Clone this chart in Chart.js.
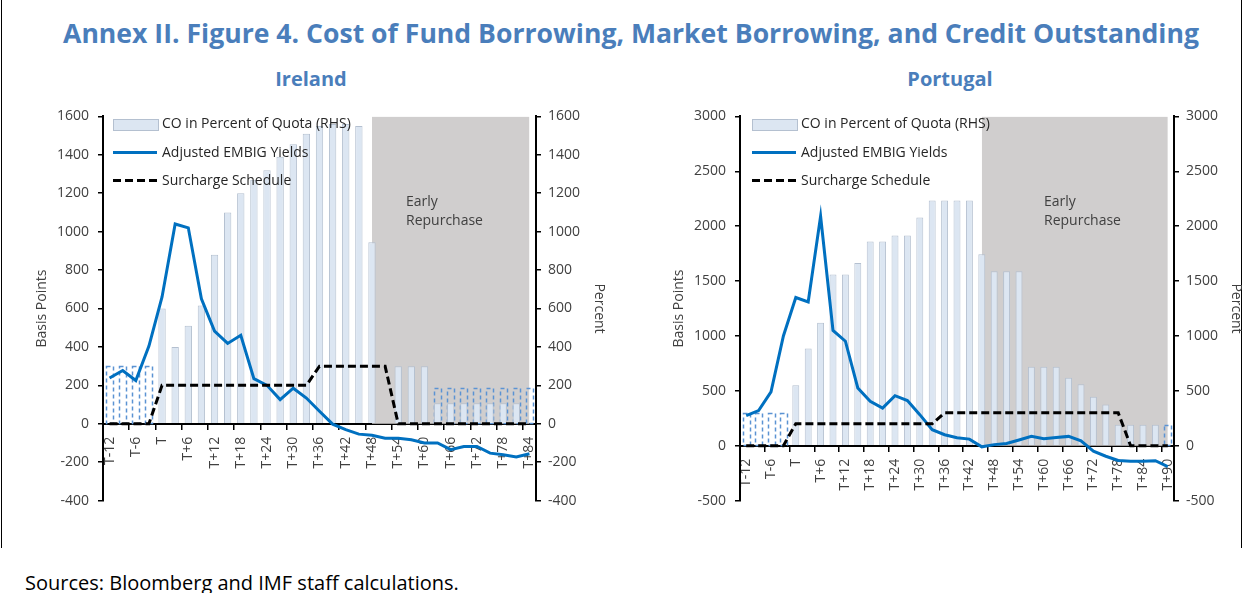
<!DOCTYPE html>
<html>
<head>
<meta charset="utf-8">
<title>Cost of Fund Borrowing, Market Borrowing, and Credit Outstanding</title>
<script src="https://cdn.jsdelivr.net/npm/chart.js@4.4.1/dist/chart.umd.min.js"></script>
<style>
  body { margin: 0; background: #fff; font-family: "Open Sans", sans-serif; }
  #page { position: relative; width: 1244px; height: 593px; overflow: hidden; background: #fff; }
  .frame { position: absolute; top: 0; height: 548px; width: 1px; background: #000; }
  h1 { position: absolute; left: 9px; width: 1244px; top: 15px; margin: 0; text-align: center;
       font-size: 26.6px; font-weight: 700; color: #4a7ebb; white-space: nowrap; }
  h2 { position: absolute; top: 65px; margin: 0; font-size: 20px; font-weight: 700; color: #4a7ebb;
       text-align: center; width: 200px; }
  canvas { position: absolute; top: 99px; }
  .legend { position: absolute; top: 116px; font-size: 14px; color: #262626; }
  .legend div { position: relative; height: 28.5px; line-height: 14px; padding-left: 49px; white-space: nowrap; }
  .legend i { position: absolute; left: 0; width: 44px; }
  .sw-bar { top: 3px; height: 10px; background: #dce6f2; border: 1px solid #b4c0d0; }
  .sw-line { top: 6px; height: 3px; background: #0070c0; }
  .sw-dash { top: 6px; height: 3px; background: repeating-linear-gradient(to right, #000 0 8px, transparent 8px 12px); }
  .note { position: absolute; top: 191px; font-size: 14px; line-height: 19px; color: #404040; }
  .source { position: absolute; left: 25px; top: 569px; font-size: 20px; color: #000; white-space: nowrap; }
</style>
</head>
<body>
<div id="page">
  <div class="frame" style="left:1px"></div>
  <div class="frame" style="left:1241px"></div>
  <h1>Annex II. Figure 4. Cost of Fund Borrowing, Market Borrowing, and Credit Outstanding</h1>
  <h2 style="left:211px">Ireland</h2>
  <h2 style="left:850px">Portugal</h2>

  <canvas id="irelandChart" width="620" height="419" style="left:0"></canvas>
  <canvas id="portugalChart" width="614" height="419" style="left:630px"></canvas>

  <div class="legend" style="left:113px">
    <div><i class="sw-bar"></i>CO in Percent of Quota (RHS)</div>
    <div><i class="sw-line"></i>Adjusted EMBIG Yields</div>
    <div><i class="sw-dash"></i>Surcharge Schedule</div>
  </div>
  <div class="legend" style="left:752px">
    <div><i class="sw-bar"></i>CO in Percent of Quota (RHS)</div>
    <div><i class="sw-line"></i>Adjusted EMBIG Yields</div>
    <div><i class="sw-dash"></i>Surcharge Schedule</div>
  </div>

  <div class="note" style="left:406px">Early<br>Repurchase</div>
  <div class="note" style="left:1044px">Early<br>Repurchase</div>

  <div class="source">Sources: Bloomberg and IMF staff calculations.</div>
</div>

<script>
// quarterly horizon relative to programme start T (months)
const irelandLabels = ['T-12','T-9','T-6','T-3','T','T+3','T+6','T+9','T+12','T+15','T+18','T+21','T+24',
  'T+27','T+30','T+33','T+36','T+39','T+42','T+45','T+48','T+51','T+54','T+57','T+60','T+63','T+66',
  'T+69','T+72','T+75','T+78','T+81','T+84'];
const portugalLabels = ['T-12','T-9','T-6','T-3','T','T+3','T+6','T+9','T+12','T+15','T+18','T+21','T+24',
  'T+27','T+30','T+33','T+36','T+39','T+42','T+45','T+48','T+51','T+54','T+57','T+60','T+63','T+66',
  'T+69','T+72','T+75','T+78','T+81','T+84','T+87','T+90'];

// Ireland
const irelandCO = [null,null,null,null,600,400,510,615,880,1100,1200,1270,1320,1390,1455,1510,1550,1560,
  1560,1550,945,null,300,300,300,107,107,107,107,107,107,107,null];
const irelandCOOutside = [300,300,300,300,null,null,null,null,null,null,null,null,null,null,null,null,null,
  null,null,null,null,null,null,null,null,187,187,187,187,187,187,187,187];
const irelandEMBIG = [238,277,225,404,660,1040,1020,650,482,418,461,235,200,126,185,134,65,-2,-31,-54,-60,
  -75,-75,-83,-100,-100,-135,-118,-118,-153,-161,-173,-156];
const irelandSurcharge = [0,0,0,0,200,200,200,200,200,200,200,200,200,200,200,200,300,300,300,300,300,300,
  0,0,0,0,0,0,0,0,0,0,0];
const irelandEarly = [null,null,null,null,null,null,null,null,null,null,null,null,null,null,null,null,null,
  null,null,null,1600,1600,1600,1600,1600,1600,1600,1600,1600,1600,1600,1600,1600];

// Portugal
const portugalCO = [null,null,null,null,550,885,1120,1560,1560,1665,1860,1860,1915,1915,2080,2235,2235,
  2235,2235,1745,1590,1590,1590,720,720,720,620,560,445,375,190,190,190,190,null];
const portugalCOOutside = [300,300,300,300,null,null,null,null,null,null,null,null,null,null,null,null,null,
  null,null,null,null,null,null,null,null,null,null,null,null,null,null,null,null,null,190];
const portugalEMBIG = [274,320,490,1000,1350,1310,2090,1050,952,526,405,343,456,411,283,146,100,72,60,-10,
  10,20,52,85,64,75,85,45,-50,-96,-134,-142,-142,-137,-190];
const portugalSurcharge = [0,0,0,0,200,200,200,200,200,200,200,200,200,200,200,200,300,300,300,300,300,300,
  300,300,300,300,300,300,300,300,300,0,0,0,0];
const portugalEarly = [null,null,null,null,null,null,null,null,null,null,null,null,null,null,null,null,null,
  null,null,3000,3000,3000,3000,3000,3000,3000,3000,3000,3000,3000,3000,3000,3000,3000,3000];

const FONT = '"Open Sans", sans-serif';
const TXT = '#404040';
const BAR = '#dce6f2';
const BAR_EDGE = '#b4c0d0';
const GREY = '#d0cece';
const DASH_BLUE = '#5b93d3';

// outline-only bars get a dashed border (Chart.js bars have no borderDash)
const dashedBars = {
  id: 'dashedBars',
  afterDatasetDraw(chart, args) {
    const ds = chart.data.datasets[args.index];
    if (!ds.dashedOutline) return;
    const ctx = chart.ctx;
    ctx.save();
    ctx.strokeStyle = DASH_BLUE;
    ctx.lineWidth = 1.5;
    ctx.setLineDash([4, 3]);
    args.meta.data.forEach((bar, i) => {
      if (ds.data[i] == null) return;
      const p = bar.getProps(['x', 'y', 'base', 'width'], true);
      ctx.strokeRect(Math.round(p.x - p.width / 2) + 0.5, Math.round(p.y) + 0.5,
        Math.round(p.width), Math.round(p.base - p.y));
    });
    ctx.restore();
  }
};

function valueAxis(side, range, titleText, width, titlePad) {
  return {
    position: side,
    min: range[0],
    max: range[1],
    ticks: { stepSize: range[2], color: TXT, font: { family: FONT, size: 14 },
             padding: side === 'left' ? 9 : 7, callback: v => String(v) },
    grid: { drawOnChartArea: false, drawTicks: true, tickLength: 5, color: '#000', lineWidth: 1.5 },
    border: { display: true, color: '#000', width: 2 },
    title: { display: true, text: titleText, color: TXT, font: { family: FONT, size: 14 },
             padding: { top: titlePad, bottom: 0 } },
    afterFit(scale) { scale.width = width; }
  };
}

function buildChart(id, labels, co, coOutside, embig, surcharge, early, range, padLeft, rightWidth, rightPad) {
  const barStyle = { grouped: false, categoryPercentage: 1, barPercentage: 0.56, yAxisID: 'y1' };
  return new Chart(document.getElementById(id).getContext('2d'), {
    type: 'bar',
    data: {
      labels,
      datasets: [
        { type: 'line', label: 'Early Repurchase', data: early, yAxisID: 'y', fill: 'origin',
          backgroundColor: GREY, borderWidth: 0, pointRadius: 0, order: 5 },
        Object.assign({ label: 'CO outside programme', data: coOutside, backgroundColor: 'rgba(0,0,0,0)',
          borderWidth: 0, dashedOutline: true, order: 4 }, barStyle),
        Object.assign({ label: 'CO in Percent of Quota (RHS)', data: co, backgroundColor: BAR,
          borderColor: BAR_EDGE, borderWidth: { left: 1, right: 1, top: 1, bottom: 0 }, order: 3 }, barStyle),
        { type: 'line', label: 'Adjusted EMBIG Yields', data: embig, yAxisID: 'y', borderColor: '#0070c0',
          borderWidth: 3, pointRadius: 0, tension: 0, order: 2 },
        { type: 'line', label: 'Surcharge Schedule', data: surcharge, yAxisID: 'y', borderColor: '#000',
          borderWidth: 3, borderDash: [8, 4], pointRadius: 0, tension: 0, order: 1 }
      ]
    },
    plugins: [dashedBars],
    options: {
      responsive: false,
      animation: false,
      layout: { padding: { left: padLeft, right: 0, top: 15, bottom: 3 } },
      plugins: { legend: { display: false }, tooltip: { enabled: false } },
      scales: {
        x: {
          position: { y: 0 },
          offset: true,
          grid: { offset: true, drawOnChartArea: false, drawTicks: true, tickLength: 5, lineWidth: 1.5,
                  color: c => c.index % 2 === 0 ? '#000' : 'rgba(0,0,0,0)' },
          border: { display: true, color: '#000', width: 2 },
          ticks: { autoSkip: false, minRotation: 90, maxRotation: 90, padding: 8, color: TXT,
                   font: { family: FONT, size: 14 },
                   callback: (v, i) => (i % 2 === 0 ? labels[i] : '') }
        },
        y: valueAxis('left', range, 'Basis Points', 71, 2),
        y1: valueAxis('right', range, 'Percent', rightWidth, rightPad)
      }
    }
  });
}

buildChart('irelandChart', irelandLabels, irelandCO, irelandCOOutside, irelandEMBIG, irelandSurcharge,
  irelandEarly, [-400, 1600, 200], 32, 84, 13);
buildChart('portugalChart', portugalLabels, portugalCO, portugalCOOutside, portugalEMBIG, portugalSurcharge,
  portugalEarly, [-500, 3000, 500], 39, 70, 0);
</script>
</body>
</html>
